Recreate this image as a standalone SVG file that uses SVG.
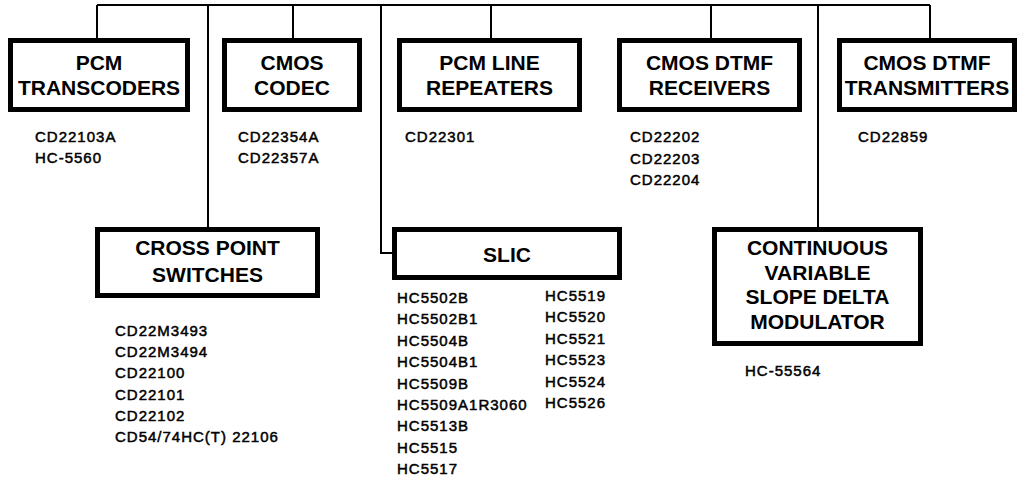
<svg xmlns="http://www.w3.org/2000/svg" width="1022" height="484" viewBox="0 0 1022 484">
<style>
.box{fill:#fff;stroke:#000;stroke-width:5}
.ttl{font-family:"Liberation Sans",Arial,sans-serif;font-weight:bold;font-size:21px;text-anchor:middle;fill:#000}
.pn{font-family:"Liberation Sans",Arial,sans-serif;font-size:15px;letter-spacing:1px;fill:#000;stroke:#000;stroke-width:0.5}
.con{fill:none;stroke:#000;stroke-width:2}
</style>
<rect width="1022" height="484" fill="#fff"/>
<g id="connectors" class="con">
<path d="M97 5H930"/>
<path d="M97 5V38"/>
<path d="M208 5V227"/>
<path d="M293 5V38"/>
<path d="M381 5V253H392"/>
<path d="M491 5V38"/>
<path d="M711 5V38"/>
<path d="M818 5V227"/>
<path d="M930 5V38"/>
</g>
<g id="pcm-transcoders">
<rect class="box" x="10.5" y="40.5" width="177" height="69"/>
<text class="ttl" x="99" y="70">PCM</text>
<text class="ttl" x="99" y="95">TRANSCODERS</text>
<text class="pn" x="35" y="142">CD22103A</text>
<text class="pn" x="35" y="163">HC-5560</text>
</g>
<g id="cmos-codec">
<rect class="box" x="224.5" y="40.5" width="135" height="69"/>
<text class="ttl" x="292" y="70">CMOS</text>
<text class="ttl" x="292" y="95">CODEC</text>
<text class="pn" x="238" y="142">CD22354A</text>
<text class="pn" x="238" y="163">CD22357A</text>
</g>
<g id="pcm-line-repeaters">
<rect class="box" x="399.5" y="40.5" width="180" height="69"/>
<text class="ttl" x="489.5" y="70">PCM LINE</text>
<text class="ttl" x="489.5" y="95">REPEATERS</text>
<text class="pn" x="405" y="142">CD22301</text>
</g>
<g id="cmos-dtmf-receivers">
<rect class="box" x="619.5" y="40.5" width="180" height="69"/>
<text class="ttl" x="709.5" y="70">CMOS DTMF</text>
<text class="ttl" x="709.5" y="95">RECEIVERS</text>
<text class="pn" x="630" y="142">CD22202</text>
<text class="pn" x="630" y="163.5">CD22203</text>
<text class="pn" x="630" y="185">CD22204</text>
</g>
<g id="cmos-dtmf-transmitters">
<rect class="box" x="839.5" y="40.5" width="175" height="69"/>
<text class="ttl" x="927" y="70">CMOS DTMF</text>
<text class="ttl" x="927" y="95">TRANSMITTERS</text>
<text class="pn" x="858" y="142">CD22859</text>
</g>
<g id="cross-point-switches">
<rect class="box" x="97.5" y="229.5" width="220" height="66"/>
<text class="ttl" x="207.5" y="255">CROSS POINT</text>
<text class="ttl" x="207.5" y="282">SWITCHES</text>
<text class="pn" x="115" y="336">CD22M3493</text>
<text class="pn" x="115" y="357.2">CD22M3494</text>
<text class="pn" x="115" y="378.4">CD22100</text>
<text class="pn" x="115" y="399.6">CD22101</text>
<text class="pn" x="115" y="420.8">CD22102</text>
<text class="pn" x="115" y="442">CD54/74HC(T) 22106</text>
</g>
<g id="slic">
<rect class="box" x="394.5" y="229.5" width="225" height="48"/>
<text class="ttl" x="507" y="262">SLIC</text>
<text class="pn" x="397" y="303">HC5502B</text>
<text class="pn" x="397" y="324.4">HC5502B1</text>
<text class="pn" x="397" y="345.8">HC5504B</text>
<text class="pn" x="397" y="367.2">HC5504B1</text>
<text class="pn" x="397" y="388.6">HC5509B</text>
<text class="pn" x="397" y="410">HC5509A1R3060</text>
<text class="pn" x="397" y="431.4">HC5513B</text>
<text class="pn" x="397" y="452.8">HC5515</text>
<text class="pn" x="397" y="474.2">HC5517</text>
<text class="pn" x="545" y="301">HC5519</text>
<text class="pn" x="545" y="322.4">HC5520</text>
<text class="pn" x="545" y="343.8">HC5521</text>
<text class="pn" x="545" y="365.2">HC5523</text>
<text class="pn" x="545" y="386.6">HC5524</text>
<text class="pn" x="545" y="408">HC5526</text>
</g>
<g id="cvsd-modulator">
<rect class="box" x="714.5" y="229.5" width="206" height="114"/>
<text class="ttl" x="817.5" y="255">CONTINUOUS</text>
<text class="ttl" x="817.5" y="279.5">VARIABLE</text>
<text class="ttl" x="817.5" y="304">SLOPE DELTA</text>
<text class="ttl" x="817.5" y="328.5">MODULATOR</text>
<text class="pn" x="745" y="376">HC-55564</text>
</g>
</svg>
